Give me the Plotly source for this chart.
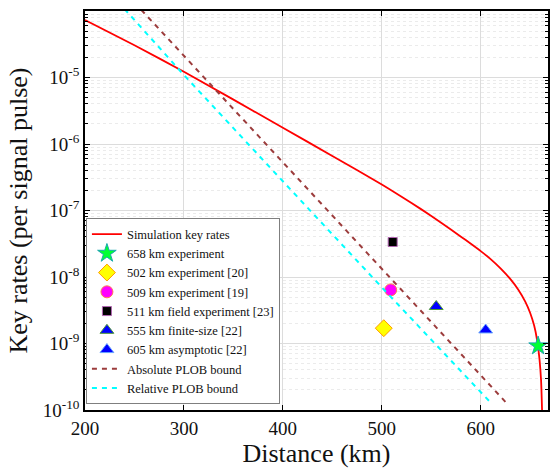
import plotly.graph_objects as go

# Simulated secret key rate versus distance
sim_km = [200, 250, 300, 400, 450, 500, 520, 540, 560, 580, 590, 600, 610, 620,
          630, 638, 645, 650, 654, 657, 659.5, 661, 662]
sim_rate = [7.33e-5, 3.05e-5, 1.22e-5, 1.76e-6, 6.6e-7, 2.46e-7, 1.61e-7, 1.04e-7,
            6.56e-8, 4.04e-8, 3.16e-8, 2.45e-8, 1.86e-8, 1.35e-8, 9.3e-9, 6.45e-9,
            4.27e-9, 2.88e-9, 1.86e-9, 1.12e-9, 5.6e-10, 2.8e-10, 1.0e-10]

# PLOB bounds
abs_km = [250, 300, 400, 500, 627]
abs_rate = [1.34e-4, 2.13e-5, 5.4e-7, 1.35e-8, 1.23e-10]
rel_km = [240, 300, 400, 500, 610.5]
rel_rate = [1.07e-4, 1.09e-5, 2.75e-7, 7.0e-9, 1.27e-10]

# Experimental points
exp_names = ["658 km experiment", "502 km experiment [20]", "509 km experiment [19]",
             "511 km field experiment [23]", "555 km finite-size [22]", "605 km asymptotic [22]"]
exp_km = [658, 502, 509, 511, 555, 605]
exp_rate = [9.2e-10, 1.7e-9, 6.4e-9, 3.36e-8, 3.6e-9, 1.6e-9]
exp_symbol = ["star", "diamond", "circle", "square", "triangle-up", "triangle-up"]
exp_fill = ["#00ff33", "#ffff00", "#ff00ff", "#000000", "#0000ff", "#0000ff"]
exp_edge = ["#1aa6b0", "#ff9900", "#ff7f50", "#b266b2", "#4d9933", "#66a3ff"]
exp_size = [14, 13, 12, 9, 12, 12]

y_tick_vals = [1e-10, 1e-9, 1e-8, 1e-7, 1e-6, 1e-5, 1e-4]
y_tick_text = ["10<sup>-10</sup>", "10<sup>-9</sup>", "10<sup>-8</sup>", "10<sup>-7</sup>",
               "10<sup>-6</sup>", "10<sup>-5</sup>", "10<sup>-4</sup>"]
x_tick_vals = [200, 300, 400, 500, 600]

minor_vals = [m * d for d in y_tick_vals[:-1] for m in range(2, 10)]

serif = "Liberation Serif, Times New Roman, serif"

fig = go.Figure()

fig.add_trace(go.Scatter(
    x=sim_km, y=sim_rate, mode="lines", name="Simulation key rates",
    line=dict(color="#ff0000", width=1.8, shape="spline", smoothing=0.6, simplify=False),
))

for name, xk, yr, sym, fc, ec, sz in zip(exp_names, exp_km, exp_rate, exp_symbol,
                                          exp_fill, exp_edge, exp_size):
    fig.add_trace(go.Scatter(
        x=[xk], y=[yr], mode="markers", name=name,
        marker=dict(symbol=sym, color=fc, size=sz, line=dict(color=ec, width=1)),
    ))

fig.add_trace(go.Scatter(
    x=abs_km, y=abs_rate, mode="lines", name="Absolute PLOB bound",
    line=dict(color="#9c3c3c", width=2, dash="5px,5px"),
))
fig.add_trace(go.Scatter(
    x=rel_km, y=rel_rate, mode="lines", name="Relative PLOB bound",
    line=dict(color="#00ffff", width=2, dash="5px,5px"),
))

fig.update_layout(
    width=551, height=472,
    margin=dict(l=85, r=1, t=11, b=62),
    paper_bgcolor="white", plot_bgcolor="white",
    font=dict(family=serif, color="#111111"),
    showlegend=True,
    legend=dict(
        x=0.002, y=0.247, xanchor="left", yanchor="middle",
        bgcolor="white", bordercolor="#7f7f7f", borderwidth=1,
        font=dict(family=serif, size=12.5, color="#111111"),
        tracegroupgap=0, itemwidth=30,
    ),
)

fig.update_xaxes(
    range=[200, 668], tickvals=x_tick_vals,
    ticks="inside", ticklen=5, tickcolor="black", mirror="ticks",
    showline=True, linecolor="black", linewidth=1.5,
    showgrid=True, gridcolor="#dcdcdc", gridwidth=1, zeroline=False,
    tickfont=dict(family=serif, size=19, color="#111111"),
    title=dict(text="Distance (km)", font=dict(family=serif, size=26, color="#111111"),
               standoff=4),
)

fig.update_yaxes(
    type="log", range=[-10, -4],
    tickvals=y_tick_vals, ticktext=y_tick_text,
    ticks="inside", ticklen=5, tickcolor="black", mirror="ticks",
    showline=True, linecolor="black", linewidth=1.5,
    showgrid=True, gridcolor="#dcdcdc", gridwidth=1, zeroline=False,
    minor=dict(tickvals=minor_vals, ticks="inside", ticklen=3, tickcolor="black",
               showgrid=True, gridcolor="#ebebeb", griddash="dot", gridwidth=1),
    tickfont=dict(family=serif, size=19, color="#111111"),
    title=dict(text="Key rates (per signal pulse)",
               font=dict(family=serif, size=26, color="#111111"), standoff=8),
)

fig.write_html("out.html")
